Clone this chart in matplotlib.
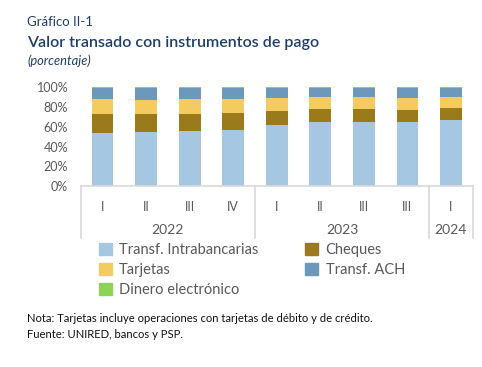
import matplotlib
matplotlib.use("Agg")
import matplotlib.pyplot as plt
import matplotlib.transforms as mtransforms
from matplotlib.patches import Patch
import numpy as np

plt.rcParams['font.family'] = ['Lato', 'DejaVu Sans']

# data (percent of total value transacted)
quarters = ["I", "II", "III", "IV", "I", "II", "III", "III", "I"]
years = ["2022", "2023", "2024"]
year_sizes = [4, 4, 1]
intrabancarias = [54.0, 55.0, 56.0, 57.0, 61.8, 64.5, 65.2, 64.5, 66.5]
cheques = [18.6, 18.3, 17.3, 17.0, 14.5, 13.5, 12.8, 12.8, 12.2]
tarjetas = [15.2, 14.2, 14.5, 14.5, 13.2, 12.2, 12.2, 12.2, 11.5]
ach = [11.0, 11.3, 11.0, 10.3, 9.3, 8.6, 8.6, 9.3, 8.6]
dinero = [1.2, 1.2, 1.2, 1.2, 1.2, 1.2, 1.2, 1.2, 1.2]

series = [
    ("Transf. Intrabancarias", intrabancarias, "#a5c7e1"),
    ("Cheques", cheques, "#9b7a1b"),
    ("Tarjetas", tarjetas, "#f3cb5f"),
    ("Transf. ACH", ach, "#6c98bc"),
    ("Dinero electrónico", dinero, "#8ed356"),
]

fig = plt.figure(figsize=(4.82, 3.67), dpi=100)
ax = fig.add_axes([0.1675, 0.4932, 0.8133, 0.2689])

x = np.arange(len(quarters))
bottom = np.zeros(len(quarters))
for name, vals, col in series:
    ax.bar(x, vals, 0.5, bottom=bottom, color=col, linewidth=0, label=name)
    bottom += np.array(vals)

ax.set_xlim(-0.5, len(quarters) - 0.5)
ax.set_ylim(0, 100)
ax.set_yticks(np.arange(0, 101, 20))
ax.set_yticklabels([f"{v}%" for v in range(0, 101, 20)])
ax.tick_params(axis="y", length=0, labelsize=9, labelcolor="#595959", pad=9)
ax.set_xticks(x)
ax.set_xticklabels(quarters)
ax.tick_params(axis="x", length=0, labelsize=9, labelcolor="#595959", pad=11)

for s in ["top", "right", "left"]:
    ax.spines[s].set_visible(False)
ax.spines["bottom"].set_color("#d9d9d9")
ax.spines["bottom"].set_linewidth(1.2)

# year group labels and separators
trans = mtransforms.blended_transform_factory(ax.transData, ax.transAxes)
edges = np.concatenate([[0], np.cumsum(year_sizes)]) - 0.5
for e in edges:
    ax.plot([e, e], [0, -0.53], transform=trans, color="#d9d9d9",
            lw=1.2, clip_on=False)
for i, yr in enumerate(years):
    ax.text((edges[i] + edges[i + 1]) / 2, -0.45, yr, transform=trans,
            ha="center", va="center", fontsize=10, color="#595959")

order = [0, 2, 4, 1, 3]
handles = [Patch(color=series[i][2]) for i in order]
labels = [series[i][0] for i in order]
fig.legend(handles, labels, ncol=2, loc="upper left",
           bbox_to_anchor=(0.205, 0.337), frameon=False, fontsize=10.5,
           labelcolor="#595959", handlelength=0.9, handleheight=0.9,
           handletextpad=0.5, columnspacing=3.2, labelspacing=0.4,
           borderpad=0, borderaxespad=0)

title_col = "#1f3e6e"
fig.text(27 / 482, 1 - 22 / 367, "Gráfico II-1", fontsize=9.5, color=title_col,
         va="center", ha="left")
fig.text(27 / 482, 1 - 43 / 367, "Valor transado con instrumentos de pago",
         fontsize=11.5, color=title_col, va="center", ha="left",
         fontweight="semibold")
fig.text(27 / 482, 1 - 61 / 367, "(porcentaje)", fontsize=9.3,
         color=title_col, va="center", ha="left", style="italic")

fig.text(27 / 482, 1 - 318 / 367,
         "Nota: Tarjetas incluye operaciones con tarjetas de débito y de crédito.",
         fontsize=8.1, color="#111111", va="center", ha="left")
fig.text(27 / 482, 1 - 334 / 367, "Fuente: UNIRED, bancos y PSP.",
         fontsize=8.1, color="#111111", va="center", ha="left")

fig.savefig("out.png", dpi=100)
